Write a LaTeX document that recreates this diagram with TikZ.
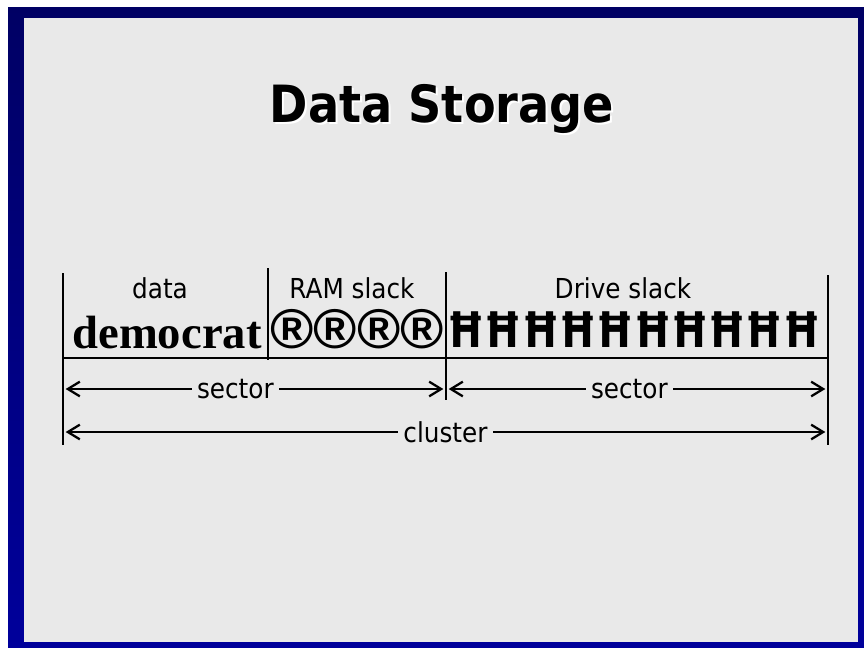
\documentclass[tikz,border=0pt]{standalone}
\usepackage{fontspec}
\usetikzlibrary{arrows.meta}
\newfontfamily\tahoma[FakeStretch=0.9]{DejaVu Sans}
\newfontfamily\narrowfont[FakeStretch=0.78]{DejaVu Sans}
\newfontfamily\symfont[FakeStretch=1.05]{Liberation Sans}
\newfontfamily\timesfont{Liberation Serif}
\definecolor{panel}{RGB}{233,233,233}
\definecolor{navytop}{RGB}{0,0,100}
\definecolor{navybot}{RGB}{0,0,155}

\begin{document}
\begin{tikzpicture}[x=0.75pt,y=-0.75pt,>={Straight Barb[length=9pt,width=11pt]},
                    bar/.style={line width=2.1pt},
                    dim/.style={<->, line width=1.7pt, shorten <=2pt, shorten >=2pt},
                    lab/.style={font=\tahoma\fontsize{20.6}{24}\selectfont, fill=panel, inner sep=4pt},
                    head/.style={font=\tahoma\fontsize{20.6}{24}\selectfont, anchor=base, inner sep=0pt},
                    ttl/.style={font=\tahoma\bfseries\fontsize{38.5}{42}\selectfont, anchor=base, inner sep=0pt}]
                    \useasboundingbox (0,0) rectangle (864,647);
                    \fill[white] (0,0) rectangle (864,647);
                    \shade[top color=navytop, bottom color=navybot] (8,7) rectangle (864,647);
                    \fill[panel] (24,18) rectangle (858,642);

                    \node[ttl, white] (shd) at (444,124) {Data Storage};
                    \node[ttl] (title) at (442,122) {Data Storage};

                    \coordinate (a1) at (63,273);
                    \coordinate (a2) at (63,445);
                    \coordinate (b1) at (268,268);
                    \coordinate (b2) at (268,360);
                    \coordinate (c1) at (446,272);
                    \coordinate (c2) at (446,400);
                    \coordinate (d1) at (828,275);
                    \coordinate (d2) at (828,445);
                    \draw [bar] (a1) -- (a2);
                    \draw [bar] (b1) -- (b2);
                    \draw [bar] (c1) -- (c2);
                    \draw [bar] (d1) -- (d2);

                    \coordinate (h1) at (63,358);
                    \coordinate (h2) at (828,358);
                    \draw [bar] (h1) -- (h2);

                    \node[head] (data) at (160,298) {data};
                    \node[head] (ram) at (352,298) {RAM slack};
                    \node[head] (drive) at (623,298) {Drive slack};

                    \node[anchor=base, inner sep=0pt, font=\timesfont\bfseries\fontsize{35}{40}\selectfont] (word) at (167,348) {democrat};
                    \node[anchor=base, inner sep=0pt, text height=29pt, text depth=1pt, font=\symfont\bfseries\fontsize{42}{46}\selectfont] (marks) at (357,348) {®®®®};
                    \node[anchor=base, inner sep=0pt, text height=27pt, text depth=0pt, font=\narrowfont\bfseries\fontsize{36.8}{40}\selectfont] (fill) at (634,347) {ĦĦĦĦĦĦĦĦĦĦ};

                    \coordinate (s1) at (63,389);
                    \coordinate (s2) at (446,389);
                    \coordinate (s3) at (828,389);
                    \draw [dim] (s1) -- node[lab, pos=0.45] (sec1) {sector} (s2);
                    \draw [dim] (s2) -- node[lab, pos=0.48] (sec2) {sector} (s3);

                    \coordinate (k1) at (63,432);
                    \coordinate (k2) at (828,432);
                    \draw [dim] (k1) -- node[lab, pos=0.5] (clu) {cluster} (k2);
                \end{tikzpicture}
\end{document}
